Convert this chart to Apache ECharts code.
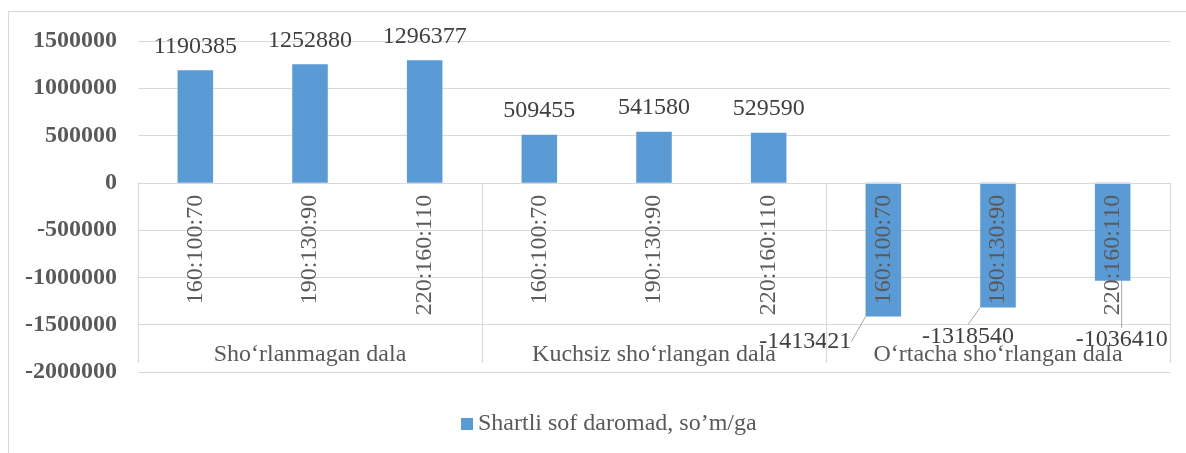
<!DOCTYPE html>
<html>
<head>
<meta charset="utf-8">
<script src="https://cdn.jsdelivr.net/npm/echarts@6/dist/echarts.min.js"></script>
<style>
html,body{margin:0;padding:0;background:#fff;}
#chart{position:absolute;left:0;top:0;width:1186px;height:453px;}
#frame{position:absolute;left:8px;top:11px;width:1200px;height:460px;border:1px solid #d9d9d9;pointer-events:none;}
</style>
</head>
<body>
<div id="chart"></div>
<div id="frame"></div>
<script>
const groups = ['Sho‘rlanmagan dala', 'Kuchsiz sho‘rlangan dala', 'O‘rtacha sho‘rlangan dala'];
const doses = ['160:100:70', '190:130:90', '220:160:110',
               '160:100:70', '190:130:90', '220:160:110',
               '160:100:70', '190:130:90', '220:160:110'];
const income = [1190385, 1252880, 1296377, 509455, 541580, 529590, -1413421, -1318540, -1036410];
const seriesName = 'Shartli sof daromad, so’m/ga';
const yTicks = { min: -2000000, max: 1500000, interval: 500000 };

// label offsets (relative to bar end) for the negative-value labels
const labelShift = { 6: [-78, 25], 7: [-30, 29], 8: [9, 59] };

const FONT = '"Liberation Serif", "Times New Roman", serif';
const GRID = { left: 138, right: 16, top: 41, bottom: 81 };
const H = 453;
const plotH = H - GRID.top - GRID.bottom;
// shift the category axes from the grid bottom up to the value 0 line
const zeroOffset = -plotH * (0 - yTicks.min) / (yTicks.max - yTicks.min);

const chart = echarts.init(document.getElementById('chart'));

const barData = income.map((v, i) => labelShift[i]
  ? { value: v, labelLine: { show: true } }
  : { value: v });

chart.setOption({
  animation: false,
  grid: Object.assign({ containLabel: false, outerBoundsMode: 'none' }, GRID),
  legend: {
    data: [seriesName],
    top: 407,
    left: 456,
    icon: 'rect',
    itemWidth: 12,
    itemHeight: 12,
    itemGap: 5,
    textStyle: { fontFamily: FONT, fontSize: 24, color: '#595959', padding: [0, 0, 0, 0] }
  },
  xAxis: [{
    type: 'category',
    data: doses,
    position: 'bottom',
    offset: zeroOffset,
    z: 5,
    axisLine: { show: true, onZero: false, lineStyle: { color: '#d9d9d9', width: 1 } },
    axisTick: { show: false },
    axisLabel: {
      interval: 0, rotate: 90, margin: 12,
      fontFamily: FONT, fontSize: 24, color: '#595959'
    }
  }, {
    type: 'category',
    data: groups,
    position: 'bottom',
    offset: zeroOffset,
    z: 5,
    axisLine: { show: false, onZero: false },
    axisTick: { show: true, interval: 0, length: 180, lineStyle: { color: '#d9d9d9', width: 1 } },
    axisLabel: {
      interval: 0, margin: 160,
      fontFamily: FONT, fontSize: 24, color: '#595959'
    }
  }],
  yAxis: {
    type: 'value',
    min: yTicks.min, max: yTicks.max, interval: yTicks.interval,
    axisLine: { show: false },
    axisTick: { show: false },
    splitLine: { lineStyle: { color: '#d9d9d9', width: 1 } },
    axisLabel: {
      margin: 21, fontFamily: FONT, fontSize: 24, fontWeight: 'bold', color: '#595959',
      formatter: v => String(v)
    }
  },
  series: [{
    name: seriesName,
    type: 'bar',
    xAxisIndex: 0,
    data: barData,
    barWidth: '31%',
    itemStyle: { color: '#5b9bd5' },
    label: {
      show: true, position: 'top', distance: 12,
      fontFamily: FONT, fontSize: 24, color: '#404040'
    },
    labelLine: { show: false, lineStyle: { color: '#a6a6a6', width: 1 } },
    labelLayout: function (p) {
      const s = labelShift[p.dataIndex];
      if (!s) return {};
      const r = p.rect;
      const cx = r.x + r.width / 2;
      const bottom = Math.max(r.y, r.y + r.height);
      return { x: cx + s[0], y: bottom + s[1], align: 'center', verticalAlign: 'middle' };
    }
  }]
});
</script>
</body>
</html>
